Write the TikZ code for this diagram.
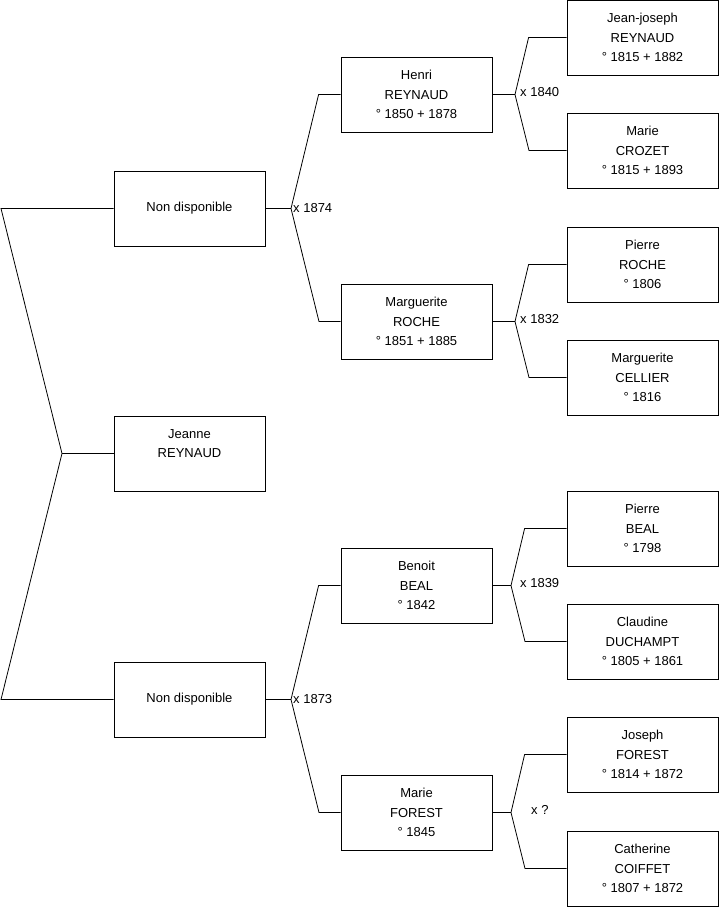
\documentclass[tikz,border=0pt]{standalone}
\usepackage{fontspec}
\setmainfont{Liberation Sans}
\usepackage{tikz}

\begin{document}
\begin{tikzpicture}[
    x=1pt, y=-1pt,
    person/.style={rectangle, draw=black, fill=white, line width=0.8pt, minimum width=151pt, minimum height=75pt, inner sep=0pt, align=center, font=\fontsize{13}{19.3}\selectfont},
    link/.style={draw=black, line width=0.8pt},
    wed/.style={anchor=west, inner sep=0pt, font=\fontsize{13}{15}\selectfont}
]
    \useasboundingbox (0,0) rectangle (719,908);

    % Generation 0
    \node (jeanne) [person] at (189.5,453.5) {Jeanne\\REYNAUD\\~};

    % Generation 1
    \node (nd1) [person] at (189.5,208.5) {Non disponible};
    \node (nd2) [person] at (189.5,699.5) {Non disponible};

    % Generation 2
    \node (henri)  [person] at (416.5,94.5)  {Henri\\REYNAUD\\° 1850 + 1878};
    \node (margr)  [person] at (416.5,321.5) {Marguerite\\ROCHE\\° 1851 + 1885};
    \node (benoit) [person] at (416.5,585.5) {Benoit\\BEAL\\° 1842};
    \node (marief) [person] at (416.5,812.5) {Marie\\FOREST\\° 1845};

    % Generation 3
    \node (jeanj)  [person] at (642.5,37.5)  {Jean-joseph\\REYNAUD\\° 1815 + 1882};
    \node (mariec) [person] at (642.5,150.5) {Marie\\CROZET\\° 1815 + 1893};
    \node (pierrer)[person] at (642.5,264.5) {Pierre\\ROCHE\\° 1806};
    \node (margc)  [person] at (642.5,377.5) {Marguerite\\CELLIER\\° 1816};
    \node (pierreb)[person] at (642.5,528.5) {Pierre\\BEAL\\° 1798};
    \node (claud)  [person] at (642.5,641.5) {Claudine\\DUCHAMPT\\° 1805 + 1861};
    \node (joseph) [person] at (642.5,754.5) {Joseph\\FOREST\\° 1814 + 1872};
    \node (cath)   [person] at (642.5,868.5) {Catherine\\COIFFET\\° 1807 + 1872};

    % Left bracket
    \coordinate (lt) at (1,208.5);
    \coordinate (lm) at (62,453.5);
    \coordinate (lb) at (1,699.5);
    \draw [link] (nd1.west) -- (lt) -- (lm) -- (lb) -- (nd2.west);
    \draw [link] (lm) -- (jeanne.west);

    % Couples of generation 1
    \coordinate (m1) at (291,208.5);
    \draw [link] (nd1.east) -- (m1);
    \draw [link] (henri.west) -- ++(-22,0) -- (m1) -- (319,321.5) -- (margr.west);
    \node (w1) [wed] at (293,208.5) {x 1874};

    \coordinate (m2) at (291,699.5);
    \draw [link] (nd2.east) -- (m2);
    \draw [link] (benoit.west) -- ++(-22,0) -- (m2) -- (319,812.5) -- (marief.west);
    \node (w2) [wed] at (293,699.5) {x 1873};

    % Couples of generation 2
    \coordinate (m3) at (515,94.5);
    \draw [link] (henri.east) -- (m3);
    \draw [link] (jeanj.west) -- ++(-38,0) -- (m3) -- (529,150.5) -- (mariec.west);
    \node (w3) [wed] at (520,92.5) {x 1840};

    \coordinate (m4) at (515,321.5);
    \draw [link] (margr.east) -- (m4);
    \draw [link] (pierrer.west) -- ++(-38,0) -- (m4) -- (529,377.5) -- (margc.west);
    \node (w4) [wed] at (520,319.5) {x 1832};

    \coordinate (m5) at (511,585.5);
    \draw [link] (benoit.east) -- (m5);
    \draw [link] (pierreb.west) -- ++(-42,0) -- (m5) -- (525,641.5) -- (claud.west);
    \node (w5) [wed] at (520,583) {x 1839};

    \coordinate (m6) at (511,812.5);
    \draw [link] (marief.east) -- (m6);
    \draw [link] (joseph.west) -- ++(-42,0) -- (m6) -- (525,868.5) -- (cath.west);
    \node (w6) [wed] at (531,810) {x ?};
\end{tikzpicture}
\end{document}
